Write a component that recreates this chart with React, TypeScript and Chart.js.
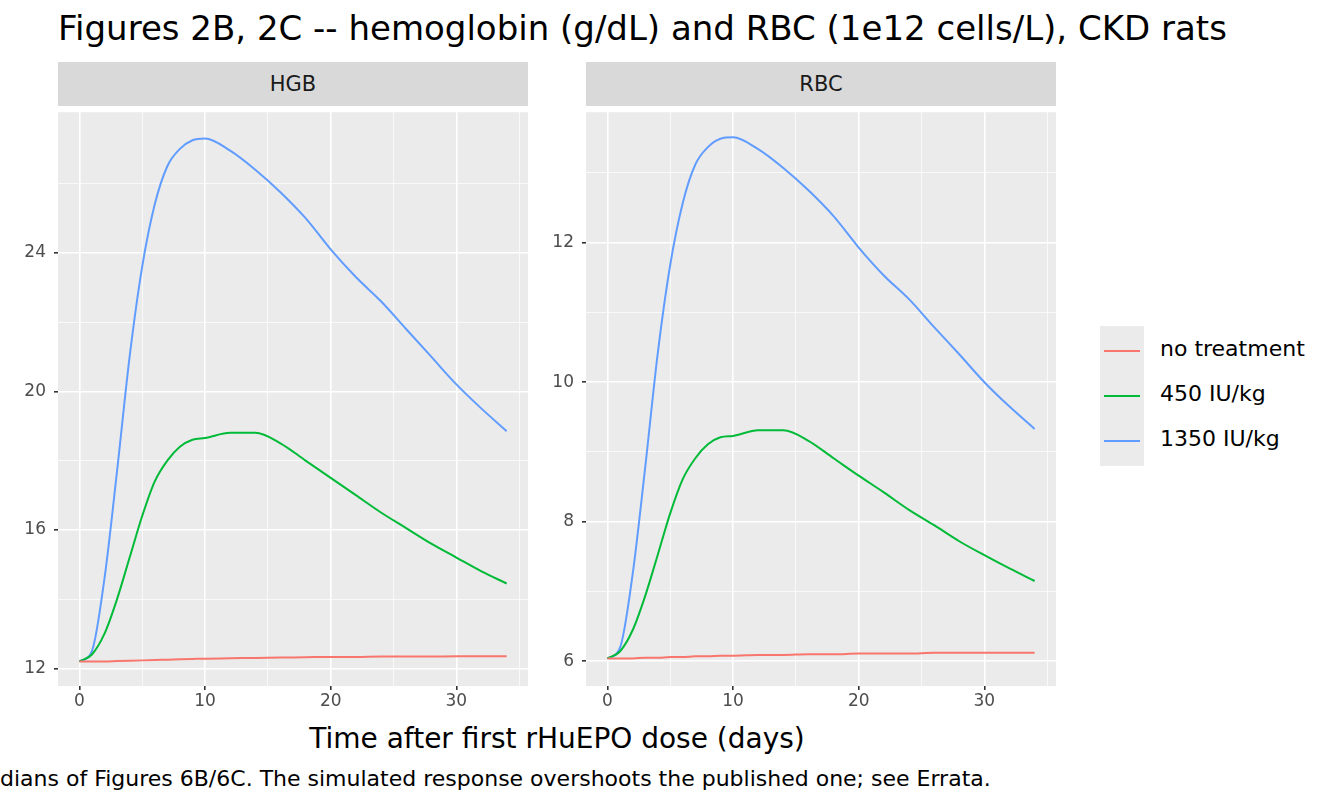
import React, { useEffect, useRef } from "react";
import { Chart, registerables } from "chart.js";
Chart.register(...registerables);

const days = [0, 1, 2, 3, 4, 5, 6, 7, 8, 9, 10, 12, 14, 16, 18, 20, 22, 24, 26, 28, 30, 32, 34];
const hgbNone = [12.2, 12.2, 12.2, 12.21, 12.22, 12.23, 12.24, 12.25, 12.26, 12.27, 12.28, 12.29, 12.3, 12.31, 12.32, 12.33, 12.33, 12.34, 12.34, 12.34, 12.35, 12.35, 12.35];
const hgb450 = [12.2, 12.4, 13.0, 14.0, 15.2, 16.4, 17.4, 18.0, 18.4, 18.6, 18.65, 18.8, 18.8, 18.5, 18.0, 17.5, 17.0, 16.5, 16.05, 15.6, 15.2, 14.8, 14.45];
const hgb1350 = [12.2, 12.5, 14.6, 17.7, 21.0, 23.6, 25.4, 26.5, 27.0, 27.25, 27.3, 26.95, 26.4, 25.75, 25.0, 24.1, 23.3, 22.6, 21.8, 21.0, 20.2, 19.5, 18.85];
const rbcNone = [6.04, 6.04, 6.04, 6.05, 6.05, 6.06, 6.06, 6.07, 6.07, 6.08, 6.08, 6.09, 6.09, 6.1, 6.1, 6.11, 6.11, 6.11, 6.12, 6.12, 6.12, 6.12, 6.12];
const rbc450 = [6.04, 6.14, 6.44, 6.93, 7.52, 8.12, 8.61, 8.91, 9.11, 9.21, 9.23, 9.31, 9.31, 9.16, 8.91, 8.66, 8.42, 8.17, 7.95, 7.72, 7.52, 7.33, 7.15];
const rbc1350 = [6.04, 6.19, 7.23, 8.76, 10.4, 11.68, 12.57, 13.12, 13.37, 13.49, 13.51, 13.34, 13.07, 12.75, 12.38, 11.93, 11.53, 11.19, 10.79, 10.4, 10.0, 9.65, 9.33];
const seriesNames = ["no treatment", "450 IU/kg", "1350 IU/kg"];
const colors = ["#F8766D", "#00BA38", "#619CFF"];
const xTicks = [0, 10, 20, 30];

const bgPlugin = {
  id: "bg",
  beforeDraw(c: any) {
    const a = c.chartArea;
    c.ctx.save();
    c.ctx.fillStyle = "#EBEBEB";
    c.ctx.fillRect(a.left, a.top, a.right - a.left, a.bottom - a.top);
    c.ctx.restore();
  },
};

function Panel({ left, series, ymin, ymax, ystep, majorStep }: any) {
  const ref = useRef<HTMLCanvasElement>(null);
  useEffect(() => {
    const isMajorY = (v: number) => Math.abs((v / majorStep) - Math.round(v / majorStep)) < 1e-6;
    const isMajorX = (v: number) => xTicks.includes(v);
    const chart = new Chart(ref.current!, {
      type: "line",
      data: {
        datasets: series.map((s: number[], i: number) => ({
          data: days.map((d, j) => ({ x: d, y: s[j] })),
          borderColor: colors[i],
          borderWidth: 2,
          pointRadius: 0,
          cubicInterpolationMode: "monotone",
          fill: false,
        })),
      },
      options: {
        animation: false,
        responsive: false,
        plugins: { legend: { display: false }, tooltip: { enabled: false } },
        layout: { padding: 0 },
        scales: {
          x: {
            type: "linear",
            min: -1.7,
            max: 35.7,
            afterBuildTicks: (sc: any) => {
              sc.ticks = [0, 5, 10, 15, 20, 25, 30, 35].map((v) => ({ value: v }));
            },
            afterFit: (sc: any) => { sc.height = 30; },
            border: { display: false },
            grid: {
              color: "#FFFFFF",
              lineWidth: (c: any) => (isMajorX(c.tick?.value) ? 1.6 : 0.7),
              tickLength: 4,
              tickColor: (c: any) => (isMajorX(c.tick?.value) ? "#333333" : "rgba(0,0,0,0)"),
            },
            ticks: {
              autoSkip: false,
              maxRotation: 0,
              color: "#4D4D4D",
              font: { size: 17, family: "DejaVu Sans" },
              padding: 1,
              callback: (v: any) => (isMajorX(v) ? String(v) : ""),
            },
          },
          y: {
            min: ymin,
            max: ymax,
            afterBuildTicks: (sc: any) => {
              const t = [];
              for (let v = Math.ceil(ymin / ystep) * ystep; v <= ymax - 0.3 * ystep; v += ystep) t.push({ value: Math.round(v * 100) / 100 });
              sc.ticks = t;
            },
            afterFit: (sc: any) => { sc.width = 58; },
            border: { display: false },
            grid: {
              color: "#FFFFFF",
              lineWidth: (c: any) => (isMajorY(c.tick?.value) ? 1.6 : 0.7),
              tickLength: 4,
              tickColor: (c: any) => (isMajorY(c.tick?.value) ? "#333333" : "rgba(0,0,0,0)"),
            },
            ticks: {
              autoSkip: false,
              color: "#4D4D4D",
              font: { size: 17, family: "DejaVu Sans" },
              padding: 8,
              callback: (v: any) => (isMajorY(v) ? String(v) : ""),
            },
          },
        },
      } as any,
      plugins: [bgPlugin],
    });
    return () => chart.destroy();
  }, []);
  return (
    <canvas ref={ref} width={528} height={622}
      style={{ position: "absolute", left, top: 94, width: 528, height: 622 }} />
  );
}

export default function App() {
  const txt: any = { position: "absolute", fontFamily: "DejaVu Sans", whiteSpace: "nowrap" };
  return (
    <div style={{ position: "absolute", left: 0, top: 0, width: 1344, height: 806, background: "#fff", overflow: "hidden" }}>
      <div style={{ ...txt, left: 58, top: 8, fontSize: 34, color: "#000" }}>
        Figures 2B, 2C -- hemoglobin (g/dL) and RBC (1e12 cells/L), CKD rats
      </div>
      <div style={{ ...txt, left: 58, top: 62, width: 470, height: 44, background: "#D9D9D9", color: "#1A1A1A", fontSize: 21, textAlign: "center", lineHeight: "44px" }}>HGB</div>
      <div style={{ ...txt, left: 586, top: 62, width: 470, height: 44, background: "#D9D9D9", color: "#1A1A1A", fontSize: 21, textAlign: "center", lineHeight: "44px" }}>RBC</div>
      <Panel left={0} series={[hgbNone, hgb450, hgb1350]} ymin={11.49} ymax={28.06} ystep={2} majorStep={4} />
      <Panel left={528} series={[rbcNone, rbc450, rbc1350]} ymin={5.645} ymax={13.87} ystep={1} majorStep={2} />
      <div style={{ ...txt, left: 58, width: 998, top: 722, fontSize: 28, textAlign: "center", color: "#000" }}>
        Time after first rHuEPO dose (days)
      </div>
      <div style={{ ...txt, left: 0, top: 766, fontSize: 22, color: "#000" }}>
        dians of Figures 6B/6C. The simulated response overshoots the published one; see Errata.
      </div>
      <div style={{ position: "absolute", left: 1100, top: 326, width: 44, height: 140, background: "#EBEBEB" }} />
      {seriesNames.map((n, i) => (
        <React.Fragment key={n}>
          <div style={{ position: "absolute", left: 1104, top: 350 + i * 45, width: 36, height: 2, background: colors[i] }} />
          <div style={{ ...txt, left: 1160, top: 336 + i * 45, fontSize: 22, color: "#000" }}>{n}</div>
        </React.Fragment>
      ))}
    </div>
  );
}
